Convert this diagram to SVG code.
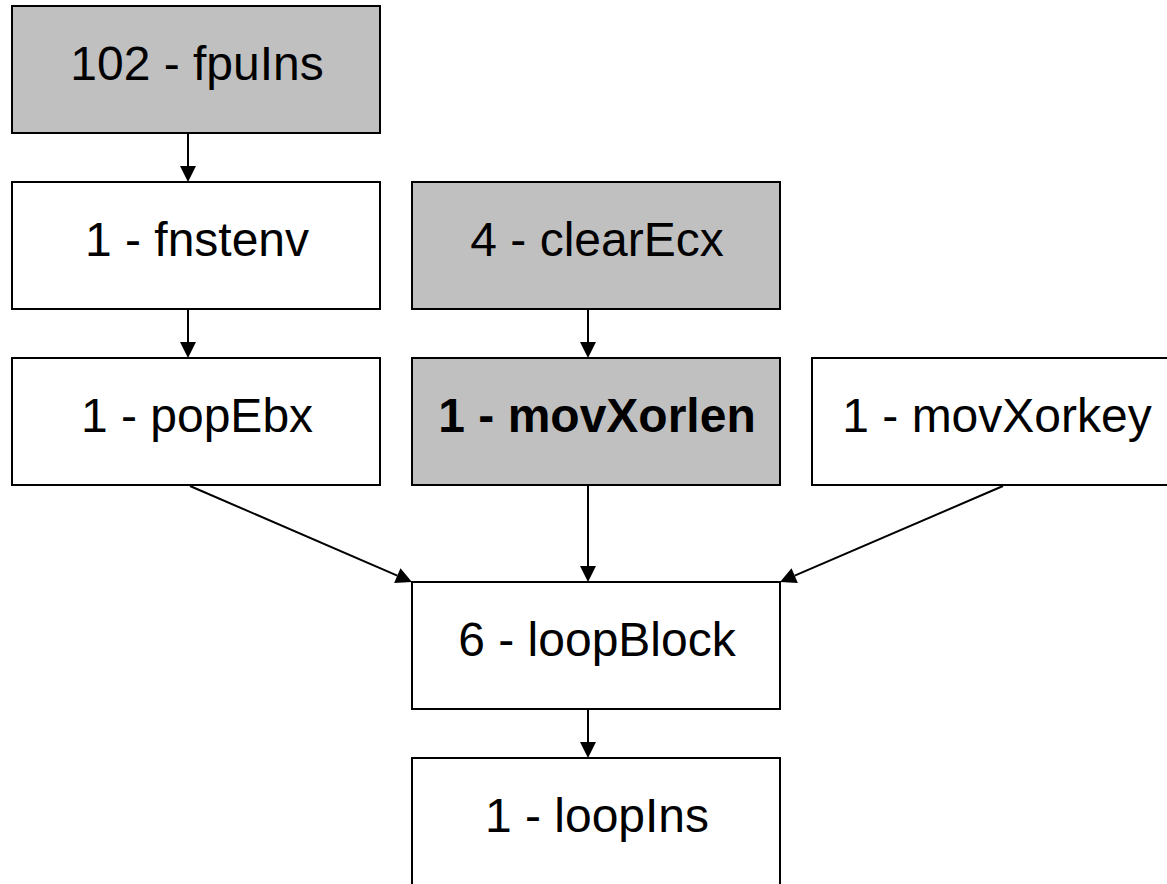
<svg xmlns="http://www.w3.org/2000/svg" width="1167" height="884" viewBox="0 0 1167 884">
  <style>
    .box { stroke: #000; stroke-width: 2; fill: #fff; }
    .hl { fill: #c0c0c0; }
    .lbl { font-family: "Liberation Sans", Arial, sans-serif; font-size: 48px; fill: #000; text-anchor: middle; }
    .bold { font-weight: bold; }
    .edge { stroke: #000; stroke-width: 2; fill: none; marker-end: url(#head); }
  </style>
  <defs>
    <marker id="head" markerUnits="userSpaceOnUse" markerWidth="16" markerHeight="16" refX="0" refY="8" orient="auto" overflow="visible">
      <path d="M0,0 L16,8 L0,16 Z" fill="#000"/>
    </marker>
  </defs>
  <rect width="1167" height="884" fill="#fff"/>

  <g id="edges">
    <line class="edge" x1="188" y1="133" x2="188" y2="166"/>
    <line class="edge" x1="188" y1="309" x2="188" y2="342"/>
    <line class="edge" x1="588" y1="309" x2="588" y2="342"/>
    <line class="edge" x1="190" y1="486" x2="397.3" y2="575.6"/>
    <line class="edge" x1="588" y1="486" x2="588" y2="566"/>
    <line class="edge" x1="1003" y1="486" x2="794.7" y2="575.7"/>
    <line class="edge" x1="588" y1="709" x2="588" y2="742"/>
  </g>

  <g id="fpuIns">
    <rect class="box hl" x="12" y="6" width="368" height="127"/>
    <text class="lbl" x="197" y="80">102 - fpuIns</text>
  </g>
  <g id="fnstenv">
    <rect class="box" x="12" y="182" width="368" height="127"/>
    <text class="lbl" x="197" y="256">1 - fnstenv</text>
  </g>
  <g id="clearEcx">
    <rect class="box hl" x="412" y="182" width="368" height="127"/>
    <text class="lbl" x="597" y="256">4 - clearEcx</text>
  </g>
  <g id="popEbx">
    <rect class="box" x="12" y="358" width="368" height="127"/>
    <text class="lbl" x="197" y="432">1 - popEbx</text>
  </g>
  <g id="movXorlen">
    <rect class="box hl" x="412" y="358" width="368" height="127"/>
    <text class="lbl bold" x="597" y="432">1 - movXorlen</text>
  </g>
  <g id="movXorkey">
    <rect class="box" x="812" y="358" width="368" height="127"/>
    <text class="lbl" x="997" y="432">1 - movXorkey</text>
  </g>
  <g id="loopBlock">
    <rect class="box" x="412" y="582" width="368" height="127"/>
    <text class="lbl" x="597" y="656">6 - loopBlock</text>
  </g>
  <g id="loopIns">
    <rect class="box" x="412" y="758" width="368" height="127"/>
    <text class="lbl" x="597" y="832">1 - loopIns</text>
  </g>
</svg>
